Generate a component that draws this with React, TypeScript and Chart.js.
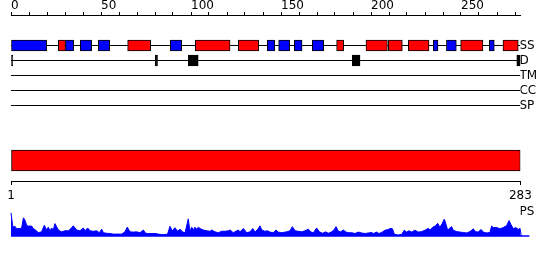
import { useEffect, useRef } from 'react';
import { Chart, registerables } from 'chart.js';

Chart.register(...registerables);

const SEQ_LENGTH = 283;
const FONT = 'DejaVu Sans';

const topTickValues = [0, 10, 20, 30, 40, 50, 60, 70, 80, 90, 100, 110, 120, 130, 140, 150, 160, 170, 180, 190, 200, 210, 220, 230, 240, 250, 260, 270, 280];
const topTickLabels = ['0', '50', '100', '150', '200', '250'];
const bottomTickValues = [1, 283];
const trackLabels = ['SS', 'D', 'TM', 'CC', 'SP'];

// Secondary structure: H = helix (red), E = strand (blue)
const ssStart = [0, 26.3, 30.3, 38.5, 48.5, 64.8, 88.5, 102.4, 126.3, 142.4, 148.7, 157.4, 167.4, 180.9, 197.2, 209.6, 220.7, 234.6, 241.9, 249.8, 265.7, 273.3];
const ssEnd = [19.8, 30.3, 34.8, 44.8, 54.8, 77.6, 94.8, 121.7, 137.6, 146.5, 154.8, 161.7, 173.7, 184.8, 209.1, 217.4, 232.2, 237.2, 247.4, 262.2, 268.5, 281.8];
const ssType = ['E', 'H', 'E', 'E', 'E', 'H', 'E', 'H', 'H', 'E', 'E', 'E', 'E', 'H', 'H', 'H', 'H', 'E', 'E', 'H', 'E', 'H'];

// Disorder segments
const disStart = [0, 80.2, 98.5, 189.6, 281];
const disEnd = [1, 81.4, 104, 193.9, 283];

// Domain bar
const domainStart = [0];
const domainEnd = [283];

// PS profile
const psResidue = [0, 1, 2.2, 3.1, 5, 5.9, 6.9, 7.8, 8.7, 9.6, 11.5, 12.4, 14.3, 15.2, 17, 18.5, 19.8, 20.7, 21.7, 22.6, 23.5, 24.4, 26.3, 28.1, 30, 31.9, 33.3, 34.6, 36.5, 38.3, 40.2, 41.1, 42.6, 43.9, 45.7, 47.6, 49.1, 50.4, 51.3, 53.1, 55, 56.9, 61.5, 63.3, 64.6, 66.1, 67.9, 69.8, 71.7, 73.5, 74.8, 76.3, 80, 81.9, 83.7, 85.6, 87, 88.3, 89.6, 91.1, 92.6, 93.9, 95.2, 96.7,
  98.5, 99.4, 100.4, 101.3, 102.2, 103.1, 104.1, 105, 106.8, 108.7, 110.6, 111.5, 113.3, 115.2, 117, 118.9, 120.7, 121.7, 123.5, 125.4, 126.3, 127.2, 129.1, 131, 132.8, 134.3, 135.6, 137.4, 138.3, 139.3, 141.1, 142.4, 143.9, 145.7, 147.2, 148.5, 150.4, 152.2, 153.1, 155, 156.3, 157.8, 159.6, 161.5, 163.3, 165.2, 166.5, 168, 169.8, 171.3, 173.1, 174.8, 176.3, 178.1, 179.4, 180.6, 181.9, 183.2, 184.6, 185.9, 187.4, 189.3, 191.1, 193,
  194.8, 196.7, 198.5, 200.4, 201.3, 203.1, 204.4, 205.9, 207.8, 209.6, 211.1, 211.9, 213, 215.2, 217, 218.5, 219.8, 221.1, 222.6, 224.4, 226.3, 228.1, 230, 231.9, 232.8, 234.1, 235.6, 237.1, 238.3, 239.6, 240.7, 241.5, 242.6, 243.3, 244.8, 245.7, 247.6, 249.4, 251.3, 253.1, 255, 256.9, 257.8, 259.6, 261.1, 262.4, 264.3, 266.1, 267, 267.9, 269.8, 271.7, 273.5, 275.4, 276.7, 277.8, 279.1, 280.4, 281.9, 282.8, 283.5];
const psHeight = [28, 11, 11.7, 9, 9, 9.5, 22, 19, 13, 12, 12, 9, 6, 4, 5, 13, 7.3, 10.7, 6.3, 9.7, 7.3, 15, 7.3, 5, 6.3, 6.3, 9, 12.3, 7.3, 6.3, 9.7, 6.3, 9.7, 6.3, 5.7, 6.3, 4, 8.3, 4, 3.3, 3, 2.3, 2.3, 5, 10.7, 5, 4.7, 5, 4, 7.3, 3.3, 3, 3, 2.3, 1.7, 1.7, 2.3, 11.7, 6.3, 10, 5.7, 8.3, 5, 4,
  20.7, 5.7, 10.7, 7.3, 10.7, 8.3, 10.7, 9, 7.3, 6.3, 5.7, 7.3, 5, 4, 5.7, 5.7, 6.3, 7.3, 4, 6.3, 7.3, 5, 9, 4, 5, 9, 4.7, 9, 12.3, 7.3, 5.7, 6.3, 4.7, 4, 7.3, 4.7, 4, 4.7, 5, 6.3, 11.3, 6.3, 5.7, 5, 6.3, 8.3, 5, 4, 9.7, 5, 3.3, 5, 3.3, 5, 7.3, 11.3, 5.7, 5, 7.3, 5, 4, 4, 3, 4.7,
  3.7, 3, 3.7, 4.3, 3, 4.7, 3, 4.3, 7, 8, 9.3, 8.7, 2, 1.3, 2, 7, 4.7, 6.3, 4.7, 7, 4.7, 5.3, 7, 9.3, 7, 10.3, 12, 15.3, 10.3, 15.3, 20.3, 15.3, 7, 8.7, 11.3, 7, 5.3, 4.7, 4.3, 3.7, 5.3, 8.7, 5.3, 4.7, 8, 4.7, 3.7, 4.3, 12, 10.3, 10.3, 8.7, 10.3, 12.7, 18.7, 13.7, 8.7, 10.3, 8, 9.3, 0];
const psBaselineEnd = 288;

// Row positions (track index) and domain bar position
const DOMAIN_ROW = 7.667;
const ROW_MIN = -2.0333;
const ROW_MAX = 9.0333;
const PS_LABEL_AT = 29;

const font = { family: FONT, size: 12 };

export default function App() {
  const ref1 = useRef<HTMLCanvasElement>(null);
  const ref2 = useRef<HTMLCanvasElement>(null);

  useEffect(() => {
    const lineSets: any[] = trackLabels.map((_, i) => ({
      type: 'line',
      data: [{ x: 0, y: i }, { x: SEQ_LENGTH, y: i }],
      borderColor: '#000',
      borderWidth: 1,
      pointRadius: 0,
      fill: false,
      order: 3,
      xAxisID: 'x',
      yAxisID: 'y',
    }));

    const barBase = {
      type: 'bar',
      indexAxis: 'y',
      grouped: false,
      borderColor: '#000',
      borderWidth: 1,
      borderSkipped: false,
      xAxisID: 'x',
      yAxisID: 'y',
      order: 1,
    };

    const c1 = new Chart(ref1.current!, {
      type: 'bar',
      data: {
        datasets: [
          ...lineSets,
          {
            ...barBase,
            barThickness: 11,
            data: ssStart.map((s, i) => ({ x: [s, ssEnd[i]], y: 0 })),
            backgroundColor: ssType.map((t) => (t === 'H' ? '#ff0000' : '#0000ff')),
          },
          {
            ...barBase,
            barThickness: 11,
            data: disStart.map((s, i) => ({ x: [s, disEnd[i]], y: 1 })),
            backgroundColor: '#000',
          },
          {
            ...barBase,
            barThickness: 21,
            data: domainStart.map((s, i) => ({ x: [s, domainEnd[i]], y: DOMAIN_ROW })),
            backgroundColor: '#ff0000',
          },
        ] as any,
      },
      options: {
        animation: false,
        responsive: true,
        maintainAspectRatio: false,
        layout: { padding: { left: 11, right: 0, top: 0, bottom: 0 } },
        plugins: { legend: { display: false }, tooltip: { enabled: false } },
        events: [],
        scales: {
          x: {
            type: 'linear',
            position: 'top',
            min: 0,
            max: SEQ_LENGTH,
            offset: false,
            afterBuildTicks: (s: any) => { s.ticks = topTickValues.map((v) => ({ value: v })); },
            afterFit: (s: any) => { s.height = 15; },
            ticks: {
              autoSkip: false,
              maxRotation: 0,
              minRotation: 0,
              align: 'start',
              padding: -1,
              font,
              color: '#000',
              callback: (v: any) => (topTickLabels.includes(String(v)) ? String(v) : ''),
            },
            grid: { drawOnChartArea: false, drawTicks: true, tickLength: 3, color: '#000', offset: false },
            border: { display: true, color: '#000', width: 1 },
          },
          x2: {
            type: 'linear',
            position: 'bottom',
            min: 1,
            max: SEQ_LENGTH,
            offset: false,
            afterBuildTicks: (s: any) => { s.ticks = bottomTickValues.map((v) => ({ value: v })); },
            afterFit: (s: any) => { s.height = 24; },
            ticks: { autoSkip: false, maxRotation: 0, minRotation: 0, padding: 4, font, color: '#000' },
            grid: { drawOnChartArea: false, drawTicks: true, tickLength: 4, color: '#000', offset: false },
            border: { display: true, color: '#000', width: 1 },
          },
          y: {
            type: 'linear',
            reverse: true,
            min: ROW_MIN,
            max: ROW_MAX,
            display: false,
            offset: false,
            grid: { offset: false },
          },
          yLab: {
            type: 'linear',
            position: 'right',
            reverse: true,
            min: ROW_MIN,
            max: ROW_MAX,
            offset: false,
            afterBuildTicks: (s: any) => { s.ticks = trackLabels.map((_, i) => ({ value: i })); },
            afterFit: (s: any) => { s.width = 29.6; },
            ticks: { autoSkip: false, padding: -1, font, color: '#000', callback: (v: any) => trackLabels[v] },
            grid: { drawOnChartArea: false, drawTicks: false, tickLength: 0, offset: false },
            border: { display: false },
          },
        } as any,
      },
    });

    const c2 = new Chart(ref2.current!, {
      type: 'line',
      data: {
        datasets: [
          {
            data: psResidue.map((x, i) => ({ x, y: psHeight[i] })),
            fill: 'origin',
            backgroundColor: '#0000ff',
            borderColor: '#0000ff',
            borderWidth: 1,
            pointRadius: 0,
            tension: 0,
            clip: false as any,
          },
          {
            data: [{ x: 0, y: 0 }, { x: psBaselineEnd, y: 0 }],
            fill: false,
            borderColor: '#0000ff',
            borderWidth: 1.5,
            pointRadius: 0,
            clip: false as any,
          },
        ] as any,
      },
      options: {
        animation: false,
        responsive: true,
        maintainAspectRatio: false,
        layout: { padding: { left: 11, right: 0, top: 1, bottom: 24 } },
        plugins: { legend: { display: false }, tooltip: { enabled: false } },
        events: [],
        scales: {
          x: { type: 'linear', min: 0, max: SEQ_LENGTH, display: false },
          y: { type: 'linear', min: 0, max: 30, display: false },
          yPS: {
            type: 'linear',
            position: 'right',
            min: 0,
            max: 30,
            afterBuildTicks: (s: any) => { s.ticks = [{ value: PS_LABEL_AT }]; },
            afterFit: (s: any) => { s.width = 29.6; },
            ticks: { autoSkip: false, padding: -1, font, color: '#000', callback: () => 'PS' },
            grid: { drawOnChartArea: false, drawTicks: false, tickLength: 0 },
            border: { display: false },
          },
        } as any,
      },
    });

    return () => {
      c1.destroy();
      c2.destroy();
    };
  }, []);

  return (
    <div style={{ position: 'absolute', left: 0, top: 0, width: 550, height: 260, background: '#fff' }}>
      <div style={{ position: 'relative', width: 550, height: 205 }}>
        <canvas ref={ref1} />
      </div>
      <div style={{ position: 'relative', width: 550, height: 55 }}>
        <canvas ref={ref2} />
      </div>
    </div>
  );
}
